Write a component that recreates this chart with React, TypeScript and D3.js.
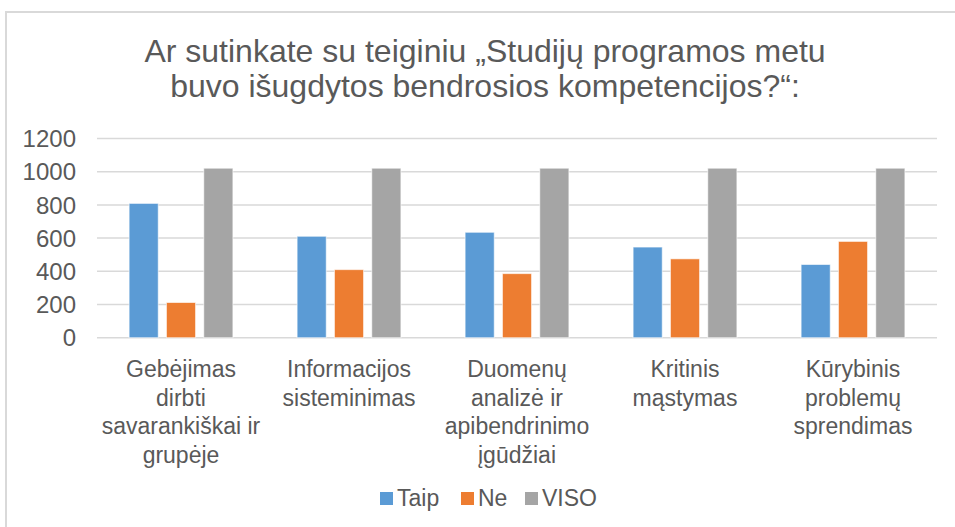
import React from "react";
import * as d3 from "d3";

const categories: string[][] = [
  ["Gebėjimas", "dirbti", "savarankiškai ir", "grupėje"],
  ["Informacijos", "sisteminimas"],
  ["Duomenų", "analizė ir", "apibendrinimo", "įgūdžiai"],
  ["Kritinis", "mąstymas"],
  ["Kūrybinis", "problemų", "sprendimas"],
];
const seriesNames = ["Taip", "Ne", "VISO"];
const taip = [809, 611, 635, 546, 441];
const ne = [212, 410, 386, 475, 580];
const viso = [1021, 1021, 1021, 1021, 1021];
const yTicks = [0, 200, 400, 600, 800, 1000, 1200];
const colors = ["#5B9BD5", "#ED7D31", "#A5A5A5"];
const titleLines = [
  "Ar sutinkate su teiginiu „Studijų programos metu",
  "buvo išugdytos bendrosios kompetencijos?“:",
];

const W = 955;
const H = 527;
const FONT = "'Liberation Sans', Arial, sans-serif";

export default function App() {
  const values = [taip, ne, viso];
  const catKeys = categories.map((c) => c.join(" "));
  const x0 = d3.scaleBand<string>().domain(catKeys).range([97, 937]).paddingInner(0).paddingOuter(0);
  const x1 = d3
    .scaleBand<string>()
    .domain(seriesNames)
    .range([0, x0.bandwidth()])
    .paddingInner(0.22)
    .paddingOuter(0.86);
  const y = d3.scaleLinear().domain([0, 1200]).range([337.7, 138.5]);

  const legendItems = [
    { name: "Taip", x: 380 },
    { name: "Ne", x: 461 },
    { name: "VISO", x: 525 },
  ];

  return (
    <svg
      width={W}
      height={H}
      style={{ position: "absolute", left: 0, top: 0, background: "#fff" }}
      fontFamily={FONT}
    >
      <rect x={0} y={0} width={W} height={H} fill="#fff" />
      <rect x={6} y={12} width={1100} height={700} fill="none" stroke="#D9D9D9" strokeWidth={2} />
      {titleLines.map((t, i) => (
        <text key={i} x={485} y={62 + i * 35} textAnchor="middle" fontSize={32} fill="#595959">
          {t}
        </text>
      ))}
      {yTicks.map((t) => (
        <g key={t}>
          <line x1={97} x2={937} y1={y(t)} y2={y(t)} stroke="#D9D9D9" strokeWidth={1.5} />
          <text x={76} y={y(t)} dy="0.36em" textAnchor="end" fontSize={24} fill="#595959">
            {t}
          </text>
        </g>
      ))}
      {catKeys.map((c, ci) => (
        <g key={c} transform={`translate(${x0(c)},0)`}>
          {seriesNames.map((s, si) => (
            <rect
              key={s}
              x={x1(s)}
              y={y(values[si][ci])}
              width={x1.bandwidth()}
              height={y(0) - y(values[si][ci])}
              fill={colors[si]}
              stroke="#ffffff"
              strokeOpacity={0.6}
              strokeWidth={1}
            />
          ))}
          {categories[ci].map((line, li) => (
            <text
              key={li}
              x={x0.bandwidth() / 2}
              y={377 + li * 28.5}
              textAnchor="middle"
              fontSize={23}
              fill="#595959"
            >
              {line}
            </text>
          ))}
        </g>
      ))}
      {legendItems.map((l, i) => (
        <g key={l.name}>
          <rect x={l.x} y={492} width={13} height={13} fill={colors[i]} />
          <text x={l.x + 17} y={506} fontSize={23} fill="#595959">
            {l.name}
          </text>
        </g>
      ))}
    </svg>
  );
}
